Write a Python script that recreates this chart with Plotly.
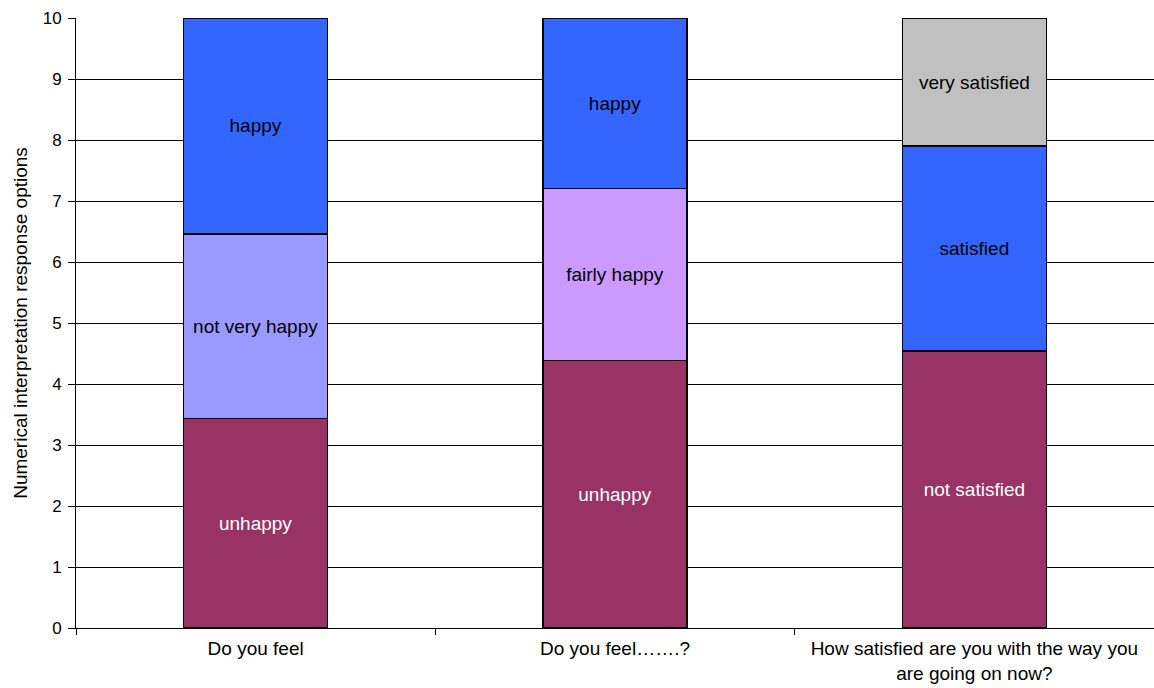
import plotly.graph_objects as go

# Survey questions on the x axis
questions = [
    "Do you feel",
    "Do you feel\u2026\u2026.?",
    "How satisfied are you with the way you<br>are going on now?",
]

# Stacked segments, bottom to top (height of each band on the 0-10 scale)
bottom_labels = ["unhappy", "unhappy", "not satisfied"]
bottom_values = [3.43, 4.38, 4.54]

middle_labels = ["not very happy", "fairly happy", "satisfied"]
middle_values = [3.03, 2.83, 3.36]

top_labels = ["happy", "happy", "very satisfied"]
top_values = [3.54, 2.79, 2.10]

bottom_colors = ["#993366", "#993366", "#993366"]
middle_colors = ["#9999FF", "#CC99FF", "#3366FF"]
top_colors = ["#3366FF", "#3366FF", "#C0C0C0"]

y_ticks = list(range(0, 11))

FONT = "Liberation Sans, Arial, sans-serif"
LABEL_SIZE = 19

fig = go.Figure()


def add_band(values, labels, colors, text_color):
    fig.add_trace(go.Bar(
        x=questions,
        y=values,
        text=labels,
        textposition="inside",
        insidetextanchor="middle",
        textangle=0,
        textfont=dict(family=FONT, size=LABEL_SIZE, color=text_color),
        marker=dict(color=colors, line=dict(color="#000000", width=1.3)),
        width=0.4,
        hoverinfo="skip",
        showlegend=False,
    ))


add_band(bottom_values, bottom_labels, bottom_colors, "#FFFFFF")
add_band(middle_values, middle_labels, middle_colors, "#000000")
add_band(top_values, top_labels, top_colors, "#000000")

fig.update_layout(
    barmode="stack",
    width=1154,
    height=688,
    margin=dict(l=76, r=0, t=18, b=60),
    paper_bgcolor="#FFFFFF",
    plot_bgcolor="#FFFFFF",
    font=dict(family=FONT, size=LABEL_SIZE, color="#000000"),
    uniformtext=dict(mode=False),
)

fig.update_xaxes(
    type="category",
    tickson="boundaries",
    ticks="outside",
    ticklen=6,
    tickcolor="#000000",
    ticklabelstandoff=3,
    showline=True,
    linecolor="#000000",
    linewidth=1,
    showgrid=False,
    tickfont=dict(family=FONT, size=LABEL_SIZE),
)

fig.update_yaxes(
    range=[0, 10],
    tickvals=y_ticks,
    ticks="outside",
    ticklen=7,
    tickcolor="#000000",
    ticklabelstandoff=3,
    showline=True,
    linecolor="#000000",
    linewidth=1,
    showgrid=True,
    gridcolor="#000000",
    gridwidth=1,
    zeroline=False,
    tickfont=dict(family=FONT, size=17),
    title=dict(text="Numerical interpretation response options",
               font=dict(family=FONT, size=19), standoff=10),
)

fig.write_html("out.html")
